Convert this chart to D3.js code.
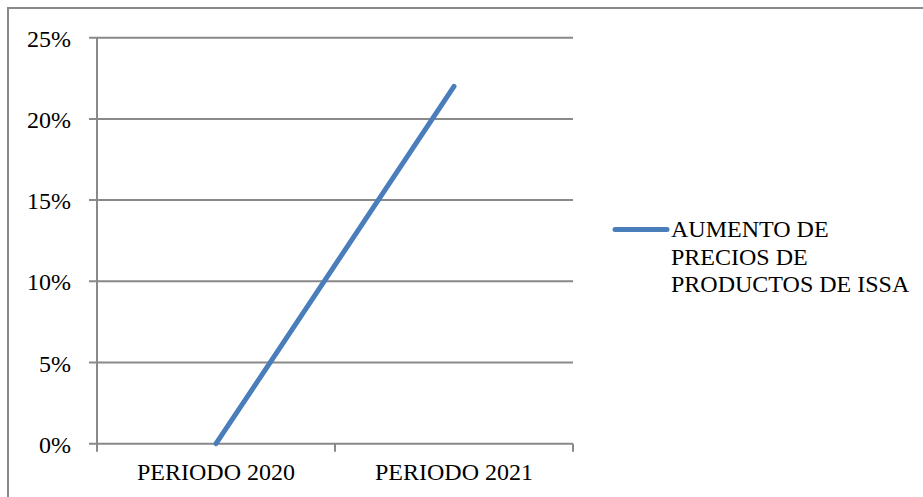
<!DOCTYPE html>
<html>
<head>
<meta charset="utf-8">
<script src="https://cdn.jsdelivr.net/npm/d3@7"></script>
<style>
  html, body { margin: 0; padding: 0; background: #fff; }
  svg { display: block; }
</style>
</head>
<body>
<svg id="chart" width="923" height="497" font-family="'Liberation Serif', 'Times New Roman', Times, serif"></svg>
<script>
// Price increase per period
const categories = ["PERIODO 2020", "PERIODO 2021"];
const values = [0.00, 0.22];
const yTicks = [0, 0.05, 0.10, 0.15, 0.20, 0.25];
const seriesLabel = ["AUMENTO DE", "PRECIOS DE", "PRODUCTOS DE ISSA"];

const svg = d3.select("#chart");
const gray = "#898989";
const blue = "#4a7ebb";
const serif = "'Liberation Serif', 'Times New Roman', Times, serif";

// outer frame
svg.append("rect")
  .attr("x", 8).attr("y", 8)
  .attr("width", 930).attr("height", 500)
  .attr("fill", "none").attr("stroke", gray).attr("stroke-width", 2);

const plot = { left: 97, right: 573, top: 37.7, bottom: 443.7 };

const x = d3.scaleBand().domain(categories).range([plot.left, plot.right]);
const y = d3.scaleLinear().domain([0, 0.25]).range([plot.bottom, plot.top]);

// horizontal gridlines with left ticks
svg.append("g").selectAll("line")
  .data(yTicks)
  .join("line")
  .attr("x1", plot.left - 8).attr("x2", plot.right)
  .attr("y1", d => y(d)).attr("y2", d => y(d))
  .attr("stroke", gray).attr("stroke-width", 2);

// y axis line
svg.append("line")
  .attr("x1", plot.left).attr("x2", plot.left)
  .attr("y1", plot.top).attr("y2", plot.bottom + 8)
  .attr("stroke", gray).attr("stroke-width", 2);

// category boundary ticks
const bounds = categories.map(c => x(c)).concat([plot.right]);
svg.append("g").selectAll("line")
  .data(bounds.slice(1))
  .join("line")
  .attr("x1", d => d).attr("x2", d => d)
  .attr("y1", plot.bottom).attr("y2", plot.bottom + 8)
  .attr("stroke", gray).attr("stroke-width", 2);

// y tick labels
const pct = d3.format(".0%");
svg.append("g").selectAll("text")
  .data(yTicks)
  .join("text")
  .attr("x", 71)
  .attr("y", d => y(d) + 9)
  .attr("text-anchor", "end")
  .attr("font-family", serif)
  .attr("font-size", 24)
  .attr("fill", "#000")
  .text(d => pct(d));

// category labels
svg.append("g").selectAll("text")
  .data(categories)
  .join("text")
  .attr("x", d => x(d) + x.bandwidth() / 2)
  .attr("y", plot.bottom + 36.5)
  .attr("text-anchor", "middle")
  .attr("font-family", serif)
  .attr("font-size", 24)
  .attr("fill", "#000")
  .text(d => d);

// series line
const line = d3.line()
  .x((d, i) => x(categories[i]) + x.bandwidth() / 2)
  .y(d => y(d));

svg.append("path")
  .datum(values)
  .attr("d", line)
  .attr("fill", "none")
  .attr("stroke", blue)
  .attr("stroke-width", 5)
  .attr("stroke-linecap", "round");

// legend
const lg = svg.append("g");
lg.append("line")
  .attr("x1", 615).attr("x2", 667)
  .attr("y1", 229.5).attr("y2", 229.5)
  .attr("stroke", blue).attr("stroke-width", 5)
  .attr("stroke-linecap", "round");
lg.selectAll("text")
  .data(seriesLabel)
  .join("text")
  .attr("x", 671)
  .attr("y", (d, i) => 237 + i * 27.7)
  .attr("font-family", serif)
  .attr("font-size", 24)
  .attr("fill", "#000")
  .text(d => d);
</script>
</body>
</html>
